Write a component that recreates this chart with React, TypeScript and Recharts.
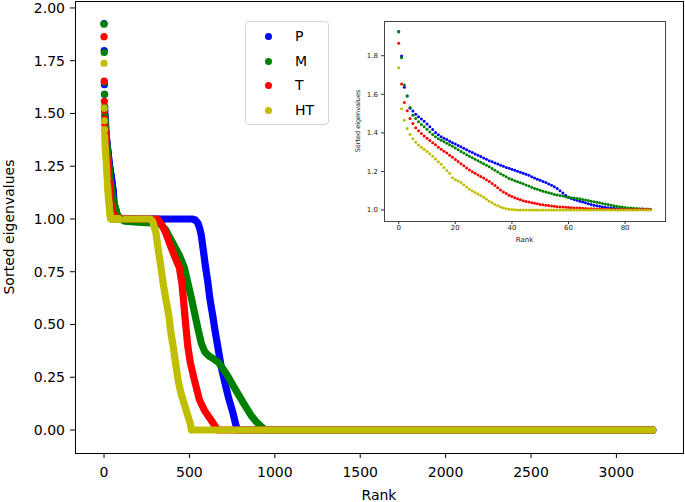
import { ComposedChart, Line, Scatter, XAxis, YAxis } from "recharts";

const SERIES_NAMES = ["P", "M", "T", "HT"];
const SERIES_COLORS = ["#0000ff", "#008000", "#ff0000", "#bfbf00"];

// sorted eigenvalues for ranks 0..89 (shown in the inset)
const HEAD_P = [
  1.926, 1.798, 1.636, 1.591, 1.528, 1.513, 1.496, 1.484, 1.472, 1.46,
  1.446, 1.432, 1.417, 1.402, 1.39, 1.38, 1.372, 1.365, 1.357, 1.349,
  1.342, 1.335, 1.328, 1.32, 1.313, 1.305, 1.298, 1.291, 1.284, 1.277,
  1.27, 1.263, 1.256, 1.25, 1.244, 1.238, 1.232, 1.227, 1.221, 1.216,
  1.211, 1.206, 1.201, 1.196, 1.191, 1.186, 1.18, 1.173, 1.166, 1.16,
  1.154, 1.148, 1.142, 1.135, 1.128, 1.12, 1.111, 1.1, 1.088, 1.076,
  1.066, 1.06, 1.055, 1.05, 1.046, 1.042, 1.037, 1.033, 1.029, 1.025,
  1.022, 1.019, 1.016, 1.014, 1.012, 1.01, 1.009, 1.008, 1.007, 1.006,
  1.005, 1.005, 1.005, 1.004, 1.004, 1.004, 1.004, 1.003, 1.003, 1.003,
];
const HEAD_M = [
  1.923, 1.789, 1.648, 1.591, 1.532, 1.491, 1.475, 1.458, 1.444, 1.432,
  1.419, 1.405, 1.392, 1.38, 1.37, 1.362, 1.354, 1.346, 1.338, 1.33,
  1.321, 1.312, 1.303, 1.295, 1.287, 1.279, 1.271, 1.263, 1.255, 1.247,
  1.24, 1.232, 1.224, 1.215, 1.206, 1.197, 1.188, 1.18, 1.172, 1.164,
  1.158, 1.152, 1.147, 1.141, 1.136, 1.13, 1.124, 1.118, 1.112, 1.107,
  1.102, 1.097, 1.093, 1.089, 1.085, 1.081, 1.078, 1.075, 1.072, 1.069,
  1.066, 1.064, 1.062, 1.06, 1.058, 1.055, 1.052, 1.049, 1.046, 1.043,
  1.04, 1.037, 1.034, 1.031, 1.028, 1.025, 1.022, 1.019, 1.017, 1.015,
  1.013, 1.011, 1.01, 1.009, 1.008, 1.007, 1.006, 1.005, 1.005, 1.004,
];
const HEAD_T = [
  1.864, 1.653, 1.558, 1.515, 1.475, 1.449, 1.427, 1.411, 1.397, 1.384,
  1.372, 1.36, 1.349, 1.338, 1.326, 1.315, 1.305, 1.295, 1.284, 1.273,
  1.262, 1.251, 1.24, 1.229, 1.218, 1.208, 1.199, 1.19, 1.182, 1.174,
  1.166, 1.157, 1.148, 1.138, 1.127, 1.115, 1.104, 1.094, 1.085, 1.077,
  1.07, 1.064, 1.058, 1.053, 1.048, 1.044, 1.041, 1.038, 1.035, 1.032,
  1.029, 1.027, 1.025, 1.023, 1.021, 1.019, 1.017, 1.016, 1.015, 1.014,
  1.013, 1.012, 1.011, 1.01, 1.01, 1.009, 1.008, 1.007, 1.006, 1.006,
  1.005, 1.005, 1.004, 1.004, 1.004, 1.003, 1.003, 1.003, 1.003, 1.002,
  1.002, 1.002, 1.002, 1.002, 1.002, 1.002, 1.002, 1.002, 1.002, 1.002,
];
const HEAD_HT = [
  1.738, 1.525, 1.465, 1.423, 1.391, 1.37, 1.351, 1.337, 1.325, 1.315,
  1.304, 1.292, 1.279, 1.265, 1.25, 1.237, 1.221, 1.205, 1.19, 1.167,
  1.157, 1.15, 1.142, 1.131, 1.119, 1.107, 1.099, 1.091, 1.083, 1.075,
  1.066, 1.056, 1.045, 1.037, 1.029, 1.022, 1.016, 1.011, 1.007, 1.004,
  1.002, 1.001, 1.0, 1.0, 1.0, 1.0, 1.0, 1.0, 1.0, 1.0,
  1.0, 1.0, 1.0, 1.0, 1.0, 1.0, 1.0, 1.0, 1.0, 1.0,
  1.0, 1.0, 1.0, 1.0, 1.0, 1.0, 1.0, 1.0, 1.0, 1.0,
  1.0, 1.0, 1.0, 1.0, 1.0, 1.0, 1.0, 1.0, 1.0, 1.0,
  1.0, 1.0, 1.0, 1.0, 1.0, 1.0, 1.0, 1.0, 1.0, 1.0,
];

// [rank, eigenvalue] after rank 89
const TAIL_P = [
  [89, 1.003], [200, 1.001], [350, 1.0], [515, 1.0], [535, 0.995], [550, 0.98],
  [562, 0.95], [570, 0.92], [580, 0.86], [594, 0.775], [608, 0.7], [620, 0.62],
  [637, 0.54], [650, 0.47], [667, 0.39], [686, 0.3], [706, 0.23], [730, 0.15],
  [755, 0.08], [770, 0.03], [780, 0.0], [3213, 0.0],
];
const TAIL_M = [
  [89, 1.004], [120, 0.99], [200, 0.985], [300, 0.98], [330, 0.975], [360, 0.95],
  [400, 0.89], [440, 0.83], [470, 0.77], [490, 0.7], [510, 0.63], [530, 0.555],
  [550, 0.48], [570, 0.41], [590, 0.37], [615, 0.35], [645, 0.335], [670, 0.32],
  [696, 0.29], [725, 0.255], [760, 0.205], [794, 0.158], [830, 0.11], [860, 0.07],
  [890, 0.04], [915, 0.02], [945, 0.0], [3213, 0.0],
];
const TAIL_T = [
  [89, 1.002], [200, 1.0], [314, 1.0], [340, 0.97], [363, 0.93], [395, 0.86],
  [420, 0.81], [441, 0.77], [455, 0.7], [465, 0.62], [478, 0.5], [490, 0.4],
  [505, 0.32], [529, 0.237], [559, 0.142], [590, 0.09], [620, 0.055], [645, 0.025],
  [665, 0.0], [3213, 0.0],
];
const TAIL_HT = [
  [89, 1.0], [270, 1.0], [284, 0.99], [304, 0.934], [318, 0.85], [333, 0.774],
  [345, 0.7], [363, 0.616], [380, 0.54], [392, 0.458], [406, 0.39], [422, 0.3],
  [435, 0.23], [452, 0.17], [471, 0.12], [490, 0.07], [505, 0.03], [512, 0.0],
  [3213, 0.0],
];

const MAIN_X_TICKS = [0, 500, 1000, 1500, 2000, 2500, 3000];
const MAIN_Y_TICKS = [0, 0.25, 0.5, 0.75, 1.0, 1.25, 1.5, 1.75, 2.0];
const INSET_X_TICKS = [0, 20, 40, 60, 80];
const INSET_Y_TICKS = [1.0, 1.2, 1.4, 1.6, 1.8];

const HEADS = [HEAD_P, HEAD_M, HEAD_T, HEAD_HT];
const TAILS = [TAIL_P, TAIL_M, TAIL_T, TAIL_HT];

const series = SERIES_NAMES.map((name, i) => ({
  name,
  color: SERIES_COLORS[i],
  head: HEADS[i].map((y, x) => ({ x, y })),
  tail: TAILS[i].map(([x, y]) => ({ x, y })),
}));

const FONT = "'DejaVu Sans', sans-serif";

const dot = (color: string, r: number) => (p: any) =>
  <circle cx={p.cx} cy={p.cy} r={r} fill={color} />;

export default function App() {
  return (
    <div style={{ position: "relative", width: 685, height: 502, background: "#fff", fontFamily: FONT }}>
      <style>{"body{margin:0}"}</style>

      <ComposedChart width={685} height={502} margin={{ top: 1, right: 2, bottom: 0, left: 0 }}>
        <XAxis
          type="number"
          dataKey="x"
          domain={[-170, 3390]}
          ticks={MAIN_X_TICKS}
          interval={0}
          allowDataOverflow
          axisLine={false}
          tickLine={{ stroke: "#000" }}
          tickSize={5}
          tickMargin={9}
          height={49}
          tick={{ fontSize: 14, fill: "#000", fontFamily: FONT }}
          label={{ value: "Rank", position: "insideBottom", offset: 2, fontSize: 14, fill: "#000", fontFamily: FONT }}
        />
        <YAxis
          type="number"
          dataKey="y"
          domain={[-0.109, 2.033]}
          ticks={MAIN_Y_TICKS}
          interval={0}
          allowDataOverflow
          axisLine={false}
          tickLine={{ stroke: "#000" }}
          tickSize={5}
          tickMargin={5}
          width={75}
          tickFormatter={(v: number) => v.toFixed(2)}
          tick={{ fontSize: 14, fill: "#000", fontFamily: FONT }}
          label={{ value: "Sorted eigenvalues", angle: -90, position: "center", dx: -28, fontSize: 14, fill: "#000", fontFamily: FONT }}
        />
        {series.flatMap((s) => [
          <Line
            key={s.name + "-tail"}
            data={s.tail}
            dataKey="y"
            type="linear"
            stroke={s.color}
            strokeWidth={7.2}
            strokeLinecap="round"
            strokeLinejoin="round"
            dot={false}
            activeDot={false}
            isAnimationActive={false}
          />,
          <Scatter
            key={s.name + "-head"}
            data={s.head}
            dataKey="y"
            fill={s.color}
            shape={dot(s.color, 3.6)}
            isAnimationActive={false}
          />,
        ])}
      </ComposedChart>
      <div style={{ position: "absolute", left: 75, top: 1, width: 609, height: 453, border: "1px solid #000", boxSizing: "border-box", pointerEvents: "none" }} />

      {/* legend */}
      <div
        style={{
          position: "absolute",
          left: 245,
          top: 21,
          width: 84,
          height: 104,
          border: "1px solid #d6d6d6",
          borderRadius: 4,
          background: "rgba(255,255,255,0.8)",
          boxSizing: "border-box",
        }}
      >
        {series.map((s, i) => (
          <div key={s.name} style={{ position: "absolute", left: 0, top: 3 + i * 24.7, height: 24, width: "100%" }}>
            <span style={{ position: "absolute", left: 19, top: 8, width: 7, height: 7, borderRadius: "50%", background: s.color }} />
            <span style={{ position: "absolute", left: 49, top: 2, fontSize: 14, lineHeight: "18px", color: "#000" }}>{s.name}</span>
          </div>
        ))}
      </div>

      {/* inset: first 90 ranks */}
      <div style={{ position: "absolute", left: 354, top: 20 }}>
        <ComposedChart width={312} height={223} margin={{ top: 1, right: 1, bottom: 0, left: 0 }}>
          <XAxis
            type="number"
            dataKey="x"
            domain={[-5.2, 94.1]}
            ticks={INSET_X_TICKS}
            interval={0}
            allowDataOverflow
            axisLine={false}
            tickLine={{ stroke: "#333" }}
            tickSize={3}
            tickMargin={1}
            height={22}
            tick={{ fontSize: 7, fill: "#222", fontFamily: FONT }}
            label={{ value: "Rank", position: "insideBottom", offset: 1, fontSize: 7, fill: "#222", fontFamily: FONT }}
          />
          <YAxis
            type="number"
            dataKey="y"
            domain={[0.943, 1.98]}
            ticks={INSET_Y_TICKS}
            interval={0}
            allowDataOverflow
            axisLine={false}
            tickLine={{ stroke: "#333" }}
            tickSize={3}
            tickMargin={3}
            width={30}
            tickFormatter={(v: number) => v.toFixed(1)}
            tick={{ fontSize: 7, fill: "#222", fontFamily: FONT }}
            label={{ value: "Sorted eigenvalues", angle: -90, position: "center", dx: -11, fontSize: 6.5, fill: "#222", fontFamily: FONT }}
          />
          {series.map((s) => (
            <Scatter
              key={s.name}
              data={s.head}
              dataKey="y"
              fill={s.color}
              shape={dot(s.color, 1.5)}
              isAnimationActive={false}
            />
          ))}
        </ComposedChart>
        <div style={{ position: "absolute", left: 30, top: 1, width: 282, height: 201, border: "1px solid #444", boxSizing: "border-box", pointerEvents: "none" }} />
      </div>
    </div>
  );
}
